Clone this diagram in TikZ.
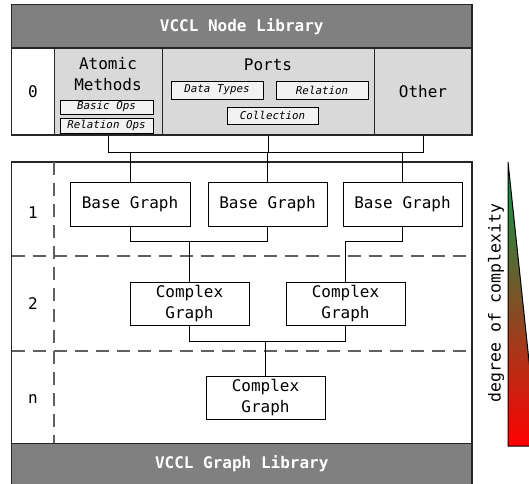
\documentclass[tikz,border=0pt]{standalone}
\usepackage{fontspec}
\setmonofont{DejaVu Sans Mono}
\definecolor{headgray}{RGB}{128,128,128}
\definecolor{colgray}{RGB}{217,217,217}
\definecolor{tagfill}{RGB}{242,242,242}
\definecolor{dashgray}{RGB}{96,96,96}
\definecolor{topgreen}{RGB}{0,160,75}
\begin{document}
\begin{tikzpicture}[x=1pt,y=-1pt,
  every node/.style={font=\ttfamily\fontsize{16}{21}\selectfont, inner sep=0pt},
  frame/.style={draw=black!85, line width=1.3pt},
  header/.style={frame, fill=headgray, text=white, font=\ttfamily\bfseries\fontsize{16}{21}\selectfont},
  column/.style={draw=black!85, line width=1pt, fill=colgray},
  tagbox/.style={draw=black, line width=0.9pt, fill=tagfill, font=\ttfamily\itshape\fontsize{10.8}{13}\selectfont},
  graphbox/.style={draw=black, line width=0.9pt, fill=white, align=center},
  link/.style={draw=black, line width=1pt},
  level/.style={draw=dashgray, line width=1.3pt, dash pattern=on 13pt off 8pt}]
\useasboundingbox (0,0) rectangle (529,483);
\begin{scope}
\clip (0,0) rectangle (529,483);

% ---- node library ----
\node[header, minimum width=460.5pt, minimum height=43.5pt] (nodelib) at (241.75,26.25) {VCCL Node Library};
\node[frame, fill=white, minimum width=460.5pt, minimum height=87pt] (row0) at (241.75,91.5) {};
\node[column, minimum width=108pt, minimum height=87pt] (am) at (108,91.5) {};
\node[column, minimum width=212pt, minimum height=87pt] (po) at (268,91.5) {};
\node[column, minimum width=98pt, minimum height=87pt] (ot) at (423,91.5) {};
\draw[frame] (11.5,48) rectangle (472,135);
\node (l0) at (33,91.5) {0};

\node[align=center] (amt) at (108,74.5) {Atomic\\Methods};
\node (pot) at (268,64.5) {Ports};
\node (ott) at (423,91.5) {Other};

\node[tagbox, minimum width=93pt, minimum height=14pt] (basic) at (106.5,107) {Basic Ops};
\node[tagbox, minimum width=93pt, minimum height=15pt] (relops) at (106.5,125.5) {Relation Ops};
\node[tagbox, minimum width=92pt, minimum height=18pt] (dtypes) at (217,90) {Data Types};
\node[tagbox, minimum width=92pt, minimum height=18pt] (rel) at (322,90) {Relation};
\node[tagbox, minimum width=91pt, minimum height=17pt] (coll) at (272.5,115.5) {Collection};

% ---- graph library frame ----
\draw[frame, fill=white] (11.5,162) rectangle (472,495);
\draw[level] (11.5,256) -- (472,256);
\draw[level] (11.5,351) -- (472,351);
\draw[level] (54,162) -- (54,443);
\node[header, minimum width=460.5pt, minimum height=50pt, anchor=north] (graphlib) at (241.75,443) {};
\node[text=white, font=\ttfamily\bfseries\fontsize{16}{21}\selectfont] (glt) at (241.75,464) {VCCL Graph Library};

\node (l1) at (33,213) {1};
\node (l2) at (33,304) {2};
\node (ln) at (33,399) {n};

% ---- graphs ----
\node[graphbox, minimum width=120pt, minimum height=44pt] (bg1) at (130,204) {Base Graph};
\node[graphbox, minimum width=119pt, minimum height=44pt] (bg2) at (267.5,204) {Base Graph};
\node[graphbox, minimum width=119pt, minimum height=44pt] (bg3) at (402.5,204) {Base Graph};
\node[graphbox, minimum width=119pt, minimum height=43pt] (cg1) at (189.5,303.5) {Complex\\Graph};
\node[graphbox, minimum width=119pt, minimum height=43pt] (cg2) at (345.5,303.5) {Complex\\Graph};
\node[graphbox, minimum width=119pt, minimum height=43pt] (cgn) at (265.5,397.5) {Complex\\Graph};

% ---- connectors ----
\coordinate (bus0) at (0,152);
\coordinate (bus1) at (0,241);
\coordinate (bus2) at (0,341);
\draw[link] (am.south) -- (am.south |- bus0) -- (ot.south |- bus0) -- (ot.south);
\draw[link] (po.south) -- (po.south |- bus0);
\draw[link] (bg1.north) -- (bg1.north |- bus0);
\draw[link] (bg2.north) -- (bg2.north |- bus0);
\draw[link] (bg3.north) -- (bg3.north |- bus0);

\draw[link] (bg1.south) -- (bg1.south |- bus1) -- (bg2.south |- bus1) -- (bg2.south);
\draw[link] (cg1.north) -- (cg1.north |- bus1);
\draw[link] (bg3.south) -- (bg3.south |- bus1) -- (cg2.north |- bus1) -- (cg2.north);

\draw[link] (cg1.south) -- (cg1.south |- bus2) -- (cg2.south |- bus2) -- (cg2.south);
\draw[link] (cgn.north) -- (cgn.north |- bus2);

% ---- complexity wedge ----
\coordinate (wtop) at (508,162);
\coordinate (wbl) at (508,446);
\coordinate (wbr) at (538,446);
\shade[top color=topgreen, bottom color=red] (wtop) -- (wbl) -- (wbr) -- cycle;
\draw[black, line width=1pt] (wtop) -- (wbl) -- (wbr) -- cycle;
\node[rotate=90, font=\ttfamily\fontsize{16.5}{20}\selectfont] (cplx) at (496,303) {degree of complexity};
\end{scope}
\end{tikzpicture}
\end{document}
